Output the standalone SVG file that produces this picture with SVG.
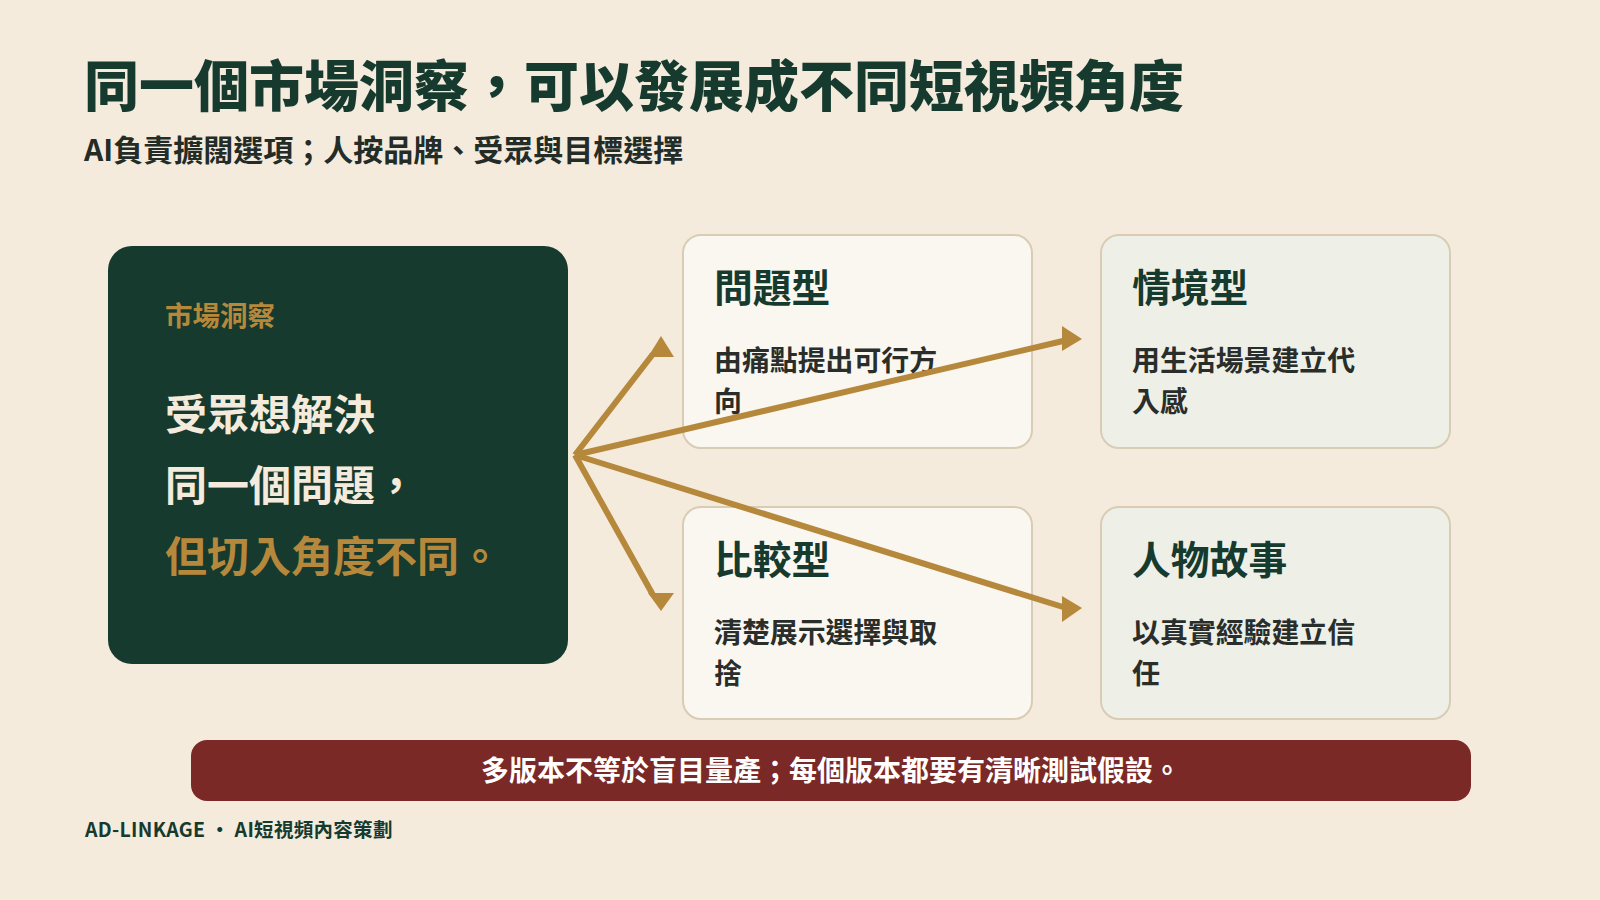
<svg xmlns="http://www.w3.org/2000/svg" width="1600" height="900" viewBox="0 0 1600 900">
<style>
text{font-family:"Noto Sans CJK TC","Noto Sans CJK SC",sans-serif;font-weight:700}
.title{font-size:55px;fill:#173a2f;font-weight:900}
.sub{font-size:30px;fill:#232c27}
.card{stroke:#d9ccb5;stroke-width:2}
.warm{fill:#faf7f0}
.cool{fill:#eef0e7}
.ct{font-size:38.8px;fill:#173a2f}
.cd{font-size:27.9px;fill:#2a2e2b}
.conn{stroke:#b5883b;stroke-width:6;fill:none;stroke-linecap:butt}
.head{fill:#b5883b}
</style>
<rect width="1600" height="900" fill="#f4ebdd"/>
<text class="title" x="84" y="106">同一個市場洞察，可以發展成不同短視頻角度</text>
<text class="sub" x="84" y="161">AI負責擴闊選項；人按品牌、受眾與目標選擇</text>

<g id="insight">
<rect x="108" y="246" width="460" height="418" rx="24" fill="#173a2f"/>
<text x="165" y="326" font-size="27.5" fill="#b5883b">市場洞察</text>
<text x="165" y="430" font-size="42" fill="#f4ebdd">受眾想解決</text>
<text x="165" y="501" font-size="42" fill="#f4ebdd">同一個問題，</text>
<text x="165" y="572" font-size="42" fill="#b5883b">但切入角度不同。</text>
</g>

<g id="problem">
<rect class="card warm" x="683" y="235" width="349" height="213" rx="18"/>
<text class="ct" x="714" y="302">問題型</text>
<text class="cd" x="714" y="371">由痛點提出可行方</text>
<text class="cd" x="714" y="412">向</text>
</g>
<g id="scenario">
<rect class="card cool" x="1101" y="235" width="349" height="213" rx="18"/>
<text class="ct" x="1132" y="302">情境型</text>
<text class="cd" x="1132" y="371">用生活場景建立代</text>
<text class="cd" x="1132" y="412">入感</text>
</g>
<g id="compare">
<rect class="card warm" x="683" y="507" width="349" height="212" rx="18"/>
<text class="ct" x="714" y="574">比較型</text>
<text class="cd" x="714" y="643">清楚展示選擇與取</text>
<text class="cd" x="714" y="684">捨</text>
</g>
<g id="story">
<rect class="card cool" x="1101" y="507" width="349" height="212" rx="18"/>
<text class="ct" x="1132" y="574">人物故事</text>
<text class="cd" x="1132" y="643">以真實經驗建立信</text>
<text class="cd" x="1132" y="684">任</text>
</g>

<g id="connectors">
<path class="conn" d="M575,455 L653,354"/>
<polygon class="head" points="661,336 674,357 648,357"/>
<path class="conn" d="M575,455 L653,595"/>
<polygon class="head" points="661,611 674,593 648,593"/>
<path class="conn" d="M575,455 L1063,341"/>
<polygon class="head" points="1082,339 1062,326 1062,351"/>
<path class="conn" d="M575,455 L1063,607"/>
<polygon class="head" points="1082,608 1062,596 1062,622"/>
</g>

<g id="note">
<rect x="191" y="740" width="1280" height="61" rx="16" fill="#7b2926"/>
<text x="831" y="781" font-size="28" fill="#ffffff" text-anchor="middle">多版本不等於盲目量產；每個版本都要有清晰測試假設。</text>
</g>
<text x="85" y="837" font-size="19.5" letter-spacing="0.3" fill="#173a2f">AD-LINKAGE ・ AI短視頻內容策劃</text>
</svg>
